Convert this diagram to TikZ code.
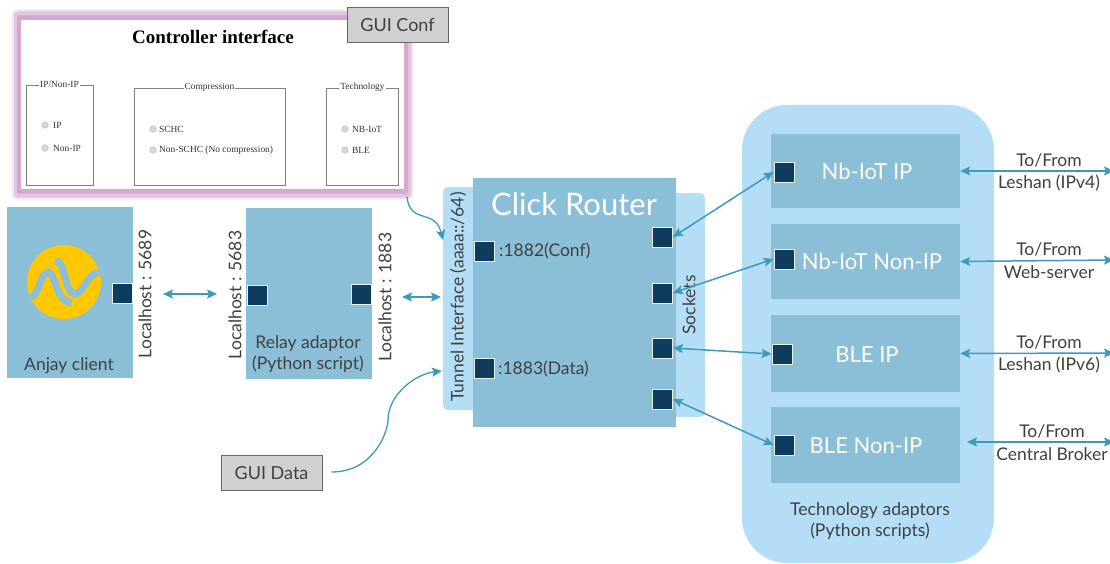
\documentclass[tikz,border=0pt]{standalone}
\usepackage{fontspec}
\usetikzlibrary{arrows.meta}
\setmainfont{Lato}
\newfontfamily\guifont{Liberation Serif}
\definecolor{blockblue}{HTML}{8BBFD8}
\definecolor{paleblue}{HTML}{B3DEF5}
\definecolor{portblue}{HTML}{0D3C5E}
\definecolor{linkblue}{HTML}{3D9ABF}
\definecolor{inkgray}{HTML}{404040}
\definecolor{guigray}{HTML}{D0D0D0}
\definecolor{framepink}{HTML}{D4A8D0}
\definecolor{midpink}{HTML}{E2C6E0}
\definecolor{halopink}{HTML}{F2E4F1}
\definecolor{logoyellow}{HTML}{FFC800}
\tikzset{
  blockbox/.style={fill=blockblue,inner sep=0pt},
  palebox/.style={fill=paleblue,rounded corners=5pt,inner sep=0pt},
  portbox/.style={fill=portblue,draw=white!80!blockblue,line width=0.8pt,minimum width=20pt,minimum height=20pt,inner sep=0pt},
  guibox/.style={fill=guigray,draw=gray!80!black,line width=1pt,inner sep=0pt,text=inkgray,font=\fontsize{18}{20}\selectfont},
  fieldbox/.style={draw=gray,line width=0.9pt,inner sep=0pt},
  radiodot/.style={circle,fill=gray!30,draw=gray!60,line width=0.4pt,minimum size=6.5pt,inner sep=0pt},
  guitext/.style={font=\guifont\fontsize{9.4}{11}\selectfont,text=black!80,inner sep=0pt,anchor=west},
  legendtext/.style={font=\guifont\fontsize{9.4}{11}\selectfont,text=black!80,fill=white,inner sep=1pt},
  darktext/.style={text=inkgray,font=\fontsize{17.5}{21.5}\selectfont,inner sep=0pt,align=center},
  whitetext/.style={text=white,font=\fontsize{22}{24}\selectfont,inner sep=0pt},
  twoway/.style={{Stealth[length=10pt,width=9pt,inset=2pt]}-{Stealth[length=10pt,width=9pt,inset=2pt]},draw=linkblue,line width=1.5pt},
  oneway/.style={-{Stealth[length=10pt,width=9pt,inset=2pt]},draw=linkblue,line width=1.3pt},
}
\newcommand{\portnode}[3]{\node[portbox] (#1) at (#2,#3) {};}
\newcommand{\radiorow}[5]{\node[radiodot] (#1) at (#2,#3) {}; \node[guitext] (#1t) at (#4,#3) {#5};}
\begin{document}
\begin{tikzpicture}[x=1pt,y=-1pt]
 \useasboundingbox (0,0) rectangle (1110,564);

 % controller screenshot
 \node[fill=halopink,rounded corners=5pt,minimum width=401pt,minimum height=190pt,inner sep=0pt] (halo) at (212.5,104.5) {};
 \node[fill=midpink,rounded corners=4pt,minimum width=397pt,minimum height=186pt,inner sep=0pt] (midframe) at (212.5,104.5) {};
 \node[fill=framepink,rounded corners=2pt,minimum width=391pt,minimum height=178pt,inner sep=0pt] (frame) at (212.5,104.5) {};
 \node[fill=white,minimum width=383pt,minimum height=169pt,inner sep=0pt] (screen) at (212.5,104.5) {};
 \node[font=\guifont\bfseries\fontsize{19}{22}\selectfont,inner sep=0pt] (ctitle) at (213,36.5) {Controller interface};
 \node[fieldbox,minimum width=67pt,minimum height=100pt] (ipfield) at (59.5,135) {};
 \node[fieldbox,minimum width=151pt,minimum height=97pt] (compfield) at (209.5,136.5) {};
 \node[fieldbox,minimum width=72pt,minimum height=97pt] (techfield) at (362.5,136.5) {};
 \node[legendtext] (iplegend) at (ipfield.north) {IP/Non-IP};
 \node[legendtext] (complegend) at (compfield.north) {Compression};
 \node[legendtext] (techlegend) at (techfield.north) {Technology};
 \radiorow{ipr}{45}{125}{53}{IP}
 \radiorow{nipr}{45}{148}{53}{Non-IP}
 \radiorow{schcr}{153}{129}{159}{SCHC}
 \radiorow{nschcr}{153}{150}{159}{Non-SCHC (No compression)}
 \radiorow{nbr}{345}{129}{352}{NB-IoT}
 \radiorow{bler}{345}{150}{352}{BLE}
 \node[guibox,minimum width=101pt,minimum height=35pt] (guiconf) at (397.5,25.5) {GUI Conf};

 % client and relay
 \node[blockbox,minimum width=126pt,minimum height=171pt] (anjay) at (70,292.5) {};
 \node[circle,fill=logoyellow,minimum size=74pt,inner sep=0pt] (logo) at (64,282) {};
 \draw[blockblue,line width=7pt] (31,298) .. controls (39,294) and (41,272) .. (48,272) .. controls (56,272) and (55,302) .. (72,303);
 \draw[blockblue,line width=7pt] (55,261) .. controls (66,259) and (64,294) .. (75,294) .. controls (84,294) and (86,274) .. (99,272);
 \node[darktext] (anjayt) at (69,366) {Anjay client};
 \portnode{anjayp}{122}{293.5}
 \node[blockbox,minimum width=126pt,minimum height=171pt] (relay) at (309,293.5) {};
 \portnode{relayl}{257}{295.5}
 \portnode{relayr}{361}{294.5}
 \node[darktext] (relayt) at (308,354) {Relay adaptor\\(Python script)};
 \node[darktext,rotate=90] (lh5689) at (145,294) {Localhost : 5689};
 \node[darktext,rotate=90] (lh5683) at (235,295) {Localhost : 5683};
 \node[darktext,rotate=90] (lh1883) at (385,297) {Localhost : 1883};
 \coordinate (anjayout) at (163,294);
 \coordinate (relayin) at (217,294);
 \coordinate (relayout) at (402,297);
 \coordinate (tunin) at (441,297);
 \draw[twoway] (anjayout) -- (relayin);
 \draw[twoway] (relayout) -- (tunin);

 % click router
 \node[palebox,minimum width=37pt,minimum height=223pt] (tunnel) at (461.5,298.5) {};
 \node[palebox,minimum width=35pt,minimum height=224pt] (sockets) at (687.5,305) {};
 \node[blockbox,minimum width=203pt,minimum height=249pt] (router) at (574.5,302.5) {};
 \node[whitetext,font=\fontsize{31}{34}\selectfont] (routert) at (574,204) {Click Router};
 \node[darktext,rotate=90,font=\fontsize{17.5}{20}\selectfont] (tunnelt) at (458,297) {Tunnel Interface (aaaa::/64)};
 \node[darktext,rotate=90] (sockt) at (689,305) {Sockets};
 \portnode{confp}{484}{251}
 \portnode{datap}{484}{368}
 \node[darktext,anchor=west] (conft) at (499,250.5) {:1882(Conf)};
 \node[darktext,anchor=west] (datat) at (498,369) {:1883(Data)};
 \portnode{socka}{662.5}{237}
 \portnode{sockb}{662.5}{293}
 \portnode{sockc}{662.5}{348}
 \portnode{sockd}{662.5}{399}

 % adaptors
 \node[fill=paleblue,rounded corners=45pt,minimum width=252pt,minimum height=458pt,inner sep=0pt] (techbg) at (868,334) {};
 \node[blockbox,minimum width=189pt,minimum height=74pt] (nbip) at (865.5,171) {};
 \node[blockbox,minimum width=189pt,minimum height=75pt] (nbnon) at (865.5,261.5) {};
 \node[blockbox,minimum width=189pt,minimum height=77pt] (bleip) at (865.5,353.5) {};
 \node[blockbox,minimum width=189pt,minimum height=76pt] (blenon) at (865.5,445) {};
 \node[whitetext] (nbipt) at (867,171) {Nb-IoT IP};
 \node[whitetext] (nbnont) at (872,261) {Nb-IoT Non-IP};
 \node[whitetext] (bleipt) at (867,354.5) {BLE IP};
 \node[whitetext] (blenont) at (866,446) {BLE Non-IP};
 \portnode{nbipp}{784}{172}
 \portnode{nbnonp}{784}{259}
 \portnode{bleipp}{782}{354}
 \portnode{blenonp}{784}{445}
 \node[darktext,font=\fontsize{17.6}{21.5}\selectfont] (techt) at (870,521) {Technology adaptors\\(Python scripts)};

 % external links
 \coordinate (out1) at (1114,171);
 \coordinate (out2) at (1114,260);
 \coordinate (out3) at (1114,353);
 \coordinate (out4) at (1114,442);
 \coordinate (in4) at (967,442);
 \draw[twoway] (nbip.east) -- (out1);
 \draw[twoway] (nbnon.east) -- (out2);
 \draw[twoway] (bleip.east) -- (out3);
 \draw[twoway] (in4) -- (out4);
 \node[darktext] (to1) at (1049,160) {To/From};
 \node[darktext] (lesh4) at (1049,183) {Leshan (IPv4)};
 \node[darktext] (to2) at (1049,249) {To/From};
 \node[darktext] (webs) at (1049,272) {Web-server};
 \node[darktext] (to3) at (1049,342) {To/From};
 \node[darktext] (lesh6) at (1049,365) {Leshan (IPv6)};
 \node[darktext] (to4) at (1052,431) {To/From};
 \node[darktext] (broker) at (1052,454) {Central Broker};

 % router to adaptors
 \draw[twoway] (socka.east) -- (nbipp.west);
 \draw[twoway] (sockb.east) -- (nbnonp.west);
 \draw[twoway] (sockc.east) -- (bleipp.west);
 \draw[twoway] (sockd.east) -- (blenonp.west);

 % gui links
 \node[guibox,minimum width=101pt,minimum height=35pt] (guidata) at (271.5,473) {GUI Data};
 \coordinate (confstart) at (407,197);
 \coordinate (confend) at (443,240);
 \coordinate (dataend) at (442,371);
 \draw[oneway] (confstart) .. controls (410,225) and (435,208) .. (confend);
 \draw[oneway] (guidata.east) ++(9,-1) .. controls (375,472) and (388,430) .. (388,420) .. controls (388,395) and (415,374) .. (dataend);
\end{tikzpicture}
\end{document}
